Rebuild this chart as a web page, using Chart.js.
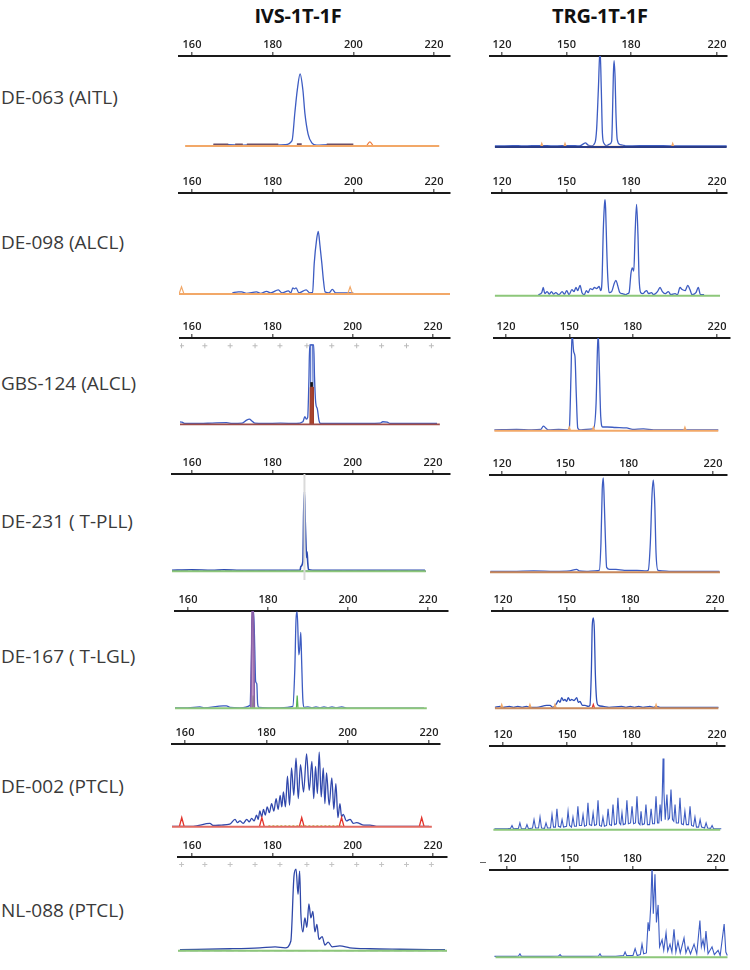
<!DOCTYPE html>
<html>
<head>
<meta charset="utf-8">
<script src="https://cdn.jsdelivr.net/npm/chart.js@4.4.1/dist/chart.umd.min.js"></script>
<style>
body { margin: 0; background: #fff; width: 750px; height: 970px; position: relative; overflow: hidden; font-family: 'Open Sans', sans-serif; }
.title { position: absolute; top: 2px; font-weight: 700; font-size: 20px; color: #111; transform: translateX(-50%); white-space: nowrap; letter-spacing: -0.2px; }
.sample { position: absolute; left: 1px; font-size: 19px; color: #3a3a3a; transform: translateY(-50%); white-space: nowrap; }
canvas { position: absolute; }
.dash { position: absolute; left: 480px; top: 862px; width: 6px; height: 1px; background: #666; }
</style>
</head>
<body>
<div class="dash"></div>
<script>
const assayTitles = ['IVS-1T-1F', 'TRG-1T-1F'];
const sampleNames = ['DE-063 (AITL)', 'DE-098 (ALCL)', 'GBS-124 (ALCL)', 'DE-231 ( T-PLL)', 'DE-167 ( T-LGL)', 'DE-002 (PTCL)', 'NL-088 (PTCL)'];
const ivsTicks = [160, 180, 200, 220];
const trgTicks = [120, 150, 180, 220];

// [size (bp), relative height %]
// DE-063
const de063IvsBlue = [[165.3,1],[169,1.5],[172,1],[176,1.5],[180,1],[183.1,1.5],[184.8,6],[185.5,37],[186.1,62],[186.8,80],[187.5,62],[188.0,36],[188.8,13],[189.7,3.5],[190.9,1],[194,1.5],[199.9,1]];
const de063IvsNoise = [[165.3,1],[169.0,1],[169.5,null],[170.7,1],[172.6,1],[173,null],[173.6,1],[181.4,1],[182,null],[186.0,1.5],[187.2,1.5],[188,null],[193.4,1],[200.0,1]];
const de063IvsBase = [[158.3,0],[221.3,0]];
const de063IvsOrange = [[203.3,0],[203.7,3],[204.1,4.5],[204.5,3],[204.9,0]];
const de063TrgBlue = [[116.7,1],[125,1.5],[130,1],[138,1.5],[144,1],[152,1.5],[156,1],[157.7,3],[158.8,4.5],[160.0,2],[161.5,1],[163.3,5],[164.0,19],[164.8,62],[165.6,108],[166.2,62],[166.7,15],[167.4,4],[168.7,1.5],[170.0,3],[171.0,6],[171.3,26],[171.8,80],[172.1,95],[172.6,76],[173.0,37],[173.6,8],[174.9,2.5],[176,2],[178,1],[190,1.5],[200,1],[224.5,1]];
const de063TrgBase = [[116.7,0],[224.5,0]];
const de063TrgOrange = [[159.4,0],[176.4,0]];
const de063TrgPeaks = [[137.9,0],[138.5,4],[139.1,0],[139.2,null],[148.7,0],[149.3,4],[149.9,0],[150,null],[198.8,0],[199.4,4],[200.0,0]];

// DE-098
const de098IvsBlue = [[170,1],[171.5,2],[172.3,2],[173.5,0.5],[176.0,2],[177,0.5],[178.5,2.5],[179.5,1],[181.4,4],[182.3,1],[183.9,3],[184.5,1],[185.0,6],[185.4,5],[185.8,6],[186.5,1],[188.3,4],[189.2,1],[189.9,1.5],[190.3,30],[190.9,54],[191.3,62],[191.7,49],[192.2,30],[192.6,13],[193.0,2],[194.0,1],[194.8,4.5],[195.6,1],[200,1]];
const de098IvsBase = [[155,0],[224,0]];
const de098IvsPeaks = [[156.8,0],[157.4,7],[158.0,0],[158.1,null],[198.6,0],[199.2,7],[199.8,0]];
const de098TrgBlue = [[136.9,1],[138.5,3],[139.2,8],[139.9,2],[141,4],[142,1.5],[143,4],[144,1.5],[145,3],[146.5,1],[148,4],[149,1.5],[150.1,5],[151.2,1],[152.5,6],[153.5,4],[154.4,8],[155.2,5],[156.3,10],[157.2,3],[158.3,1],[159.2,5],[160.1,3],[161,7],[162,6],[163,8],[164,7],[165.2,9],[165.9,5],[166.5,14],[167.1,63],[167.6,87],[167.9,93.5],[168.2,85],[168.7,47],[169.2,18],[169.8,3],[171,4],[172.2,12],[173.0,15],[173.8,10],[174.8,3],[176,2],[177.5,1],[178.4,2],[179.1,3],[180.0,22],[180.6,27],[181.3,24],[181.9,60],[182.6,89],[183.3,55],[183.7,20],[184.5,3],[185.5,2],[186.5,4],[187.3,5],[188.2,2],[189.5,3],[190.5,1],[192.3,4],[193.5,8],[194.6,4],[195.8,2],[197.4,4],[198.5,1],[200.5,2],[201.6,1],[202.8,8],[203.8,6],[205.2,5],[206.4,10],[207.4,6],[208.4,1],[210.2,3],[211.3,8],[212.3,1],[214,1]];
const de098TrgBase = [[116.7,0],[221.4,0]];

// GBS-124
const gbs124IvsBlue = [[155,1],[156.6,3],[157.5,2.5],[158.3,1],[162,1],[165,1.5],[168.6,2],[170,1],[172.5,1.5],[173.6,5],[174.3,6],[174.9,4],[175.6,1.5],[178,1],[182,1.5],[186,1],[187.6,3],[188.1,9],[188.5,6],[188.8,8],[189.1,50],[189.3,92],[190.3,92],[190.5,55],[190.8,25],[191.2,18],[191.6,5],[192.0,1],[196,1],[200,1],[206.8,1.5],[207.5,3],[208.6,2.5],[209.3,1],[215,1],[221,1]];
const gbs124IvsInner = [[189.4,3],[189.55,92],[190.05,92],[190.2,3]];
const gbs124IvsRed = [[189.35,0],[189.45,43],[190.15,43],[190.25,0]];
const gbs124IvsBlack = [[189.45,46],[190.1,46]];
const gbs124IvsMarks = [[157.4,91],[163.2,91],[169.5,91],[175.7,91],[181.9,91],[188.6,91],[194.8,91],[201.0,91],[207.2,91],[213.4,91],[219.6,91]];
const gbs124IvsBase = [[154.5,0],[221.7,0]];
const gbs124TrgBlue = [[114.5,1],[125,1.5],[132,1],[136.5,1.5],[137.7,5],[138.8,3],[140,1],[145,1.5],[149.5,1],[150.0,2],[150.8,60],[151.3,105],[152.1,85],[152.7,80],[153.3,40],[154.0,3],[155,1],[158,1.5],[161.4,2],[162.7,30],[163.3,85],[163.7,105],[164.2,70],[164.9,15],[165.8,4],[168,4],[172,3.5],[177.2,3],[180,1.5],[185.1,2],[190,1],[210,1],[220.6,1]];
const gbs124TrgBase = [[114.5,0],[220.6,0]];
const gbs124TrgPeaks = [[149.4,0],[150.0,4],[150.6,0],[150.7,null],[160.8,0],[161.4,4],[162.0,0],[162.1,null],[204.2,0],[204.8,4],[205.4,0]];

// DE-231
const de231IvsBlue = [[154.5,1],[160,1.5],[165,1],[168,1.5],[172,1],[178,1],[183,1],[186.9,1],[187.1,5],[187.6,10],[187.8,60],[188.0,82],[188.2,50],[188.4,25],[188.55,14],[188.65,20],[188.8,10],[189.0,2],[190,1],[195,1],[205,1],[213,1],[218,1]];
const de231IvsMarker = [[188.0,-9],[188.0,100]];
const de231IvsBase = [[154.5,0],[218.2,0]];
const de231TrgBlue = [[114.5,1],[125,1],[135,1.5],[145,1],[152,1.5],[155.4,3],[156.5,1.5],[160,1],[164,1.5],[166.1,2],[166.9,30],[167.5,85],[168.0,97],[168.5,70],[169.0,35],[169.6,5],[171,3],[174,3],[178,2],[184,2],[188.6,1.5],[189.3,2],[190.3,30],[191.1,80],[191.7,95],[192.4,70],[193.0,20],[193.9,2],[196,1.5],[200,1],[210,1],[223,1]];
const de231TrgBase = [[114.3,0],[223.3,0]];

// DE-167
const de167IvsBlue = [[156,0.5],[160,0.5],[163.0,1.5],[164,0.5],[168.8,2.5],[169.6,2.5],[170.5,1],[173,0.5],[175.5,3],[175.8,40],[176.1,100],[176.4,100],[176.7,60],[176.9,28],[177.2,25],[177.4,5],[177.7,1],[180,0.5],[183,0.5],[186.2,2],[186.7,40],[187.0,90],[187.3,99],[187.7,55],[187.9,60],[188.2,78],[188.4,50],[188.7,10],[189.0,1],[190,1.5],[191,0.5],[192,1.5],[193,0.5],[194,1.5],[195,0.5],[196,1.5],[197,0.5],[198.4,1.5],[200,0],[219,0]];
const de167IvsPurple = [[175.7,0],[175.9,60],[176.0,105],[176.3,105],[176.5,60],[176.6,0]];
const de167IvsGreen = [[176.1,0],[176.3,13],[176.5,0],[176.6,null],[187.1,0],[187.3,13],[187.5,0]];
const de167IvsBase = [[155.9,0],[219.7,0]];
const de167TrgBlue = [[116.2,1],[118.6,2],[120,1],[123,2],[125,1],[127,2],[129,1],[131,2],[133,1],[136,1],[140.6,3],[142.2,3],[143.5,1],[145.3,5],[146.1,8],[146.9,6],[147.7,11],[148.5,8],[149.2,9],[150.0,7],[150.8,11],[151.6,8],[152.4,9],[153.5,8],[154.8,11],[155.5,6],[156.3,7],[157.5,3],[158.7,3],[160.2,2],[161.0,3],[161.7,40],[162.1,85],[162.6,93],[163.1,80],[163.5,40],[164.2,8],[165.0,3],[167.3,2],[170,1],[176,2],[178,1],[180,2],[182,1],[184,2],[186,1],[189.3,2],[191,1],[192.5,2],[194,1],[200,1],[221.6,1]];
const de167TrgBase = [[116.2,0],[221.6,0]];
const de167TrgPeaks = [[118.8,0],[119.4,4],[120.0,0],[120.1,null],[132.1,0],[132.7,4],[133.3,0],[133.4,null],[143.9,0],[144.5,4],[145.1,0],[145.2,null],[191.6,0],[192.2,4],[192.8,0]];
const de167TrgRed = [[162.0,0],[162.6,4],[163.2,0]];

// DE-002
const de002IvsBlue = [[156.7,0.5],[162,0.5],[166.1,4],[167,1.5],[169,2],[171,3],[172.3,9],[172.9,5],[173.5,7],[174.3,4],[175.2,9],[175.8,6],[176.4,10],[177.0,7],[177.6,14],[178.0,9],[178.4,19],[178.85,12],[179.3,21],[179.75,14],[180.2,24],[180.75,17],[181.3,28],[181.85,19],[182.4,34],[182.9,21],[183.4,38],[183.8,24],[184.2,42],[184.7,24],[185.2,61],[185.7,26],[186.2,71],[186.75,38],[187.3,83],[187.85,34],[188.4,75],[189.15,42],[189.9,88],[190.55,44],[191.2,79],[191.65,34],[192.1,73],[192.55,40],[193.0,90],[193.5,36],[194.0,71],[194.4,28],[194.8,65],[195.45,26],[196.1,59],[196.6,21],[197.1,52],[197.6,11],[198.1,28],[198.5,12],[198.9,15],[199.7,7],[200.6,9],[201.4,4],[202.2,5],[204,2],[205.5,2],[207.1,0.5],[220,0.5]];
const de002IvsRed = [[158.6,0],[159.2,11],[159.8,0],[159.9,null],[178.3,0],[178.9,11],[179.5,0],[179.6,null],[188.1,0],[188.7,11],[189.3,0],[189.4,null],[197.9,0],[198.5,11],[199.1,0],[199.2,null],[217.6,0],[218.2,11],[218.8,0]];
const de002IvsBase = [[156.7,0],[220.7,0]];
const de002IvsDots = [[180.5,0.8],[198.5,0.8]];
const de002TrgBlue = [[116,1],[122,1],[123.5,1.5],[124.2,5],[124.9,1],[127.2,1.5],[127.9,8],[128.6,1],[130.5,1],[131.2,6],[131.9,1],[133.8,2],[134.5,12],[135.2,2],[136.6,2],[137.3,15],[138.0,2],[139.4,1.5],[140.1,8],[140.8,2],[142.2,2],[142.9,18],[143.6,3],[144.5,3],[145.2,25],[145.9,4],[146.9,3],[147.6,12],[148.3,3],[149.7,4],[150.4,22],[151.1,5],[152.0,3],[152.7,15],[153.4,4],[154.3,4],[155.0,28],[155.7,5],[156.7,5],[157.4,18],[158.1,4],[159.0,5],[159.7,32],[160.4,6],[161.4,5],[162.1,20],[162.8,5],[163.7,6],[164.4,35],[165.1,5],[166.0,4],[166.7,15],[167.4,4],[168.4,5],[169.1,25],[169.8,6],[170.7,5],[171.4,30],[172.1,6],[173.0,7],[173.7,38],[174.4,8],[175.0,6],[175.6,20],[176.2,6],[177.2,7],[177.9,35],[178.6,7],[179.6,8],[180.3,28],[181.0,7],[181.9,8],[182.6,40],[183.3,8],[184.0,6],[184.5,22],[185.1,6],[186.1,7],[186.8,30],[187.5,6],[188.5,6],[189.2,25],[189.9,7],[190.8,7],[191.5,40],[192.2,8],[192.8,8],[193.4,30],[194.0,10],[194.4,40],[194.8,85],[195.2,45],[195.8,12],[196.6,42],[197.2,12],[197.8,14],[198.5,48],[199.2,12],[199.8,10],[200.4,30],[201.0,8],[202.0,8],[202.7,38],[203.4,7],[204.3,6],[205.0,22],[205.7,6],[206.7,6],[207.4,28],[208.1,5],[209.0,4],[209.7,15],[210.4,3],[211.4,3],[212.1,12],[212.8,3],[214.2,2],[214.9,8],[215.6,2],[217.0,1.5],[217.7,5],[218.4,1],[222,1]];
const de002TrgBase = [[115.5,0],[221.5,0]];

// NL-088
const nl088IvsBlue = [[157.0,1],[169.5,2],[176.9,3],[180.7,4],[183.2,3],[184.6,10],[185.4,80],[185.9,87],[186.4,60],[186.8,85],[187.1,40],[187.6,20],[188.1,35],[188.6,25],[189.1,50],[189.6,35],[190.1,42],[190.6,20],[191.1,28],[191.6,12],[192.4,15],[193.1,6],[193.9,9],[194.9,4],[196.8,5],[199.3,3],[204.3,2],[211.8,1.5],[223.0,1]];
const nl088IvsMarks = [[157.4,92],[163.2,92],[169.5,92],[175.7,92],[181.9,92],[188.6,92],[194.8,92],[201.0,92],[207.2,92],[213.4,92],[219.6,92]];
const nl088IvsBase = [[156.5,0],[223.5,0]];
const nl088TrgBlue = [[114,1],[124,1],[125.5,1.5],[126.2,4],[126.9,1],[140,1],[144.7,1.5],[145.4,3],[146.1,1],[160,1],[163.8,1.5],[164.5,4],[165.2,1],[172,1],[175.8,2],[176.5,6],[177.2,2],[180.3,2],[181.3,10],[182.3,2],[183.8,3],[184.6,15],[185.4,4],[186.7,5],[187.5,40],[188.1,30],[188.8,60],[189.4,105],[190.0,50],[190.8,95],[191.5,40],[192.3,60],[193.0,12],[194.2,20],[195.0,8],[196.1,28],[196.9,7],[198.0,15],[198.9,6],[199.9,32],[200.8,6],[201.8,18],[202.9,5],[204.7,22],[205.6,5],[206.6,12],[207.8,4],[209.5,15],[210.8,4],[212.3,42],[213.0,12],[213.8,20],[214.5,10],[215.2,30],[216.2,4],[218.1,12],[219.2,3],[221.0,8],[222,2],[223.9,38],[224.7,6],[225.4,2]];
const nl088TrgBase = [[114.5,0],[225.5,0]];

const BLUE = '#3d5cc2', NAVY = '#2b3c86', ORANGE = '#f2a868', GREEN = '#8dc77a', RED = '#e3342c';

// geo: [axis left px, axis right px, first tick px, last tick px, axis y, baseline y]
const panels = [
  { col: 0, geo: [179, 450, 192, 434, 56, 146], sets: [
    { data: de063IvsBase, color: ORANGE, w: 2 },
    { data: de063IvsNoise, color: '#6e5068', w: 3, sharp: true },
    { data: de063IvsOrange, color: '#ee7a3a', w: 1.2 },
    { data: de063IvsBlue, color: BLUE, w: 1.3 } ] },
  { col: 1, geo: [490, 727, 502, 717, 56, 147], sets: [
    { data: de063TrgBase, color: NAVY, w: 2 },
    { data: de063TrgOrange, color: '#f5b98a', w: 2.5 },
    { data: de063TrgPeaks, color: ORANGE, w: 1.2, sharp: true },
    { data: de063TrgBlue, color: BLUE, w: 1.3 } ] },
  { col: 0, geo: [179, 450, 192, 434, 193, 294], sets: [
    { data: de098IvsBase, color: ORANGE, w: 2 },
    { data: de098IvsBase, color: '#d2402c', w: 1.5, dash: [2, 3] },
    { data: de098IvsPeaks, color: ORANGE, w: 1.2, sharp: true },
    { data: de098IvsBlue, color: BLUE, w: 1.3 } ] },
  { col: 1, geo: [492, 727, 502, 717, 193, 296], sets: [
    { data: de098TrgBase, color: GREEN, w: 2 },
    { data: de098TrgBlue, color: BLUE, w: 1.3 } ] },
  { col: 0, geo: [180, 450, 192, 433, 338, 429], sets: [
    { data: gbs124IvsMarks, color: '#bbbbbb', dots: true },
    { data: gbs124IvsBase, color: '#a04d48', w: 1.6 },
    { data: gbs124IvsRed, color: '#9c3c2c', w: 1, fill: '#a8452f', sharp: true },
    { data: gbs124IvsBlack, color: '#151515', w: 5, sharp: true },
    { data: gbs124IvsInner, color: BLUE, w: 1, sharp: true },
    { data: gbs124IvsBlue, color: BLUE, w: 1.3 } ] },
  { col: 1, geo: [494, 730, 506, 717, 338, 431], sets: [
    { data: gbs124TrgBase, color: ORANGE, w: 2 },
    { data: gbs124TrgPeaks, color: ORANGE, w: 1.2, sharp: true },
    { data: gbs124TrgBlue, color: BLUE, w: 1.3 } ] },
  { col: 0, geo: [172, 450, 192, 433, 474, 571], sets: [
    { data: de231IvsMarker, color: '#dadada', w: 2, sharp: true },
    { data: de231IvsBase, color: GREEN, w: 2 },
    { data: de231IvsBase, color: NAVY, w: 1.5, dash: [7, 4] },
    { data: de231IvsBlue, color: '#2d4bb0', w: 1.6 } ] },
  { col: 1, geo: [490, 727, 502, 713, 475, 572], sets: [
    { data: de231TrgBase, color: '#c8875a', w: 2 },
    { data: de231TrgBlue, color: BLUE, w: 1.3 } ] },
  { col: 0, geo: [175, 448, 188, 428, 611, 708], sets: [
    { data: de167IvsBase, color: GREEN, w: 2 },
    { data: de167IvsPurple, color: '#8a5fa8', w: 1.5, fill: 'rgba(170,110,170,0.7)' },
    { data: de167IvsGreen, color: '#58b34f', w: 1.2, sharp: true },
    { data: de167IvsBlue, color: BLUE, w: 1.3 } ] },
  { col: 1, geo: [492, 728, 503, 715, 611, 708], sets: [
    { data: de167TrgBase, color: '#c98b5e', w: 2 },
    { data: de167TrgPeaks, color: ORANGE, w: 1.2, sharp: true },
    { data: de167TrgRed, color: RED, w: 1.2, sharp: true },
    { data: de167TrgBlue, color: '#2f4fb8', w: 1.3 } ] },
  { col: 0, geo: [172, 440, 185, 429, 744, 827], sets: [
    { data: de002IvsBase, color: '#e06a62', w: 2 },
    { data: de002IvsDots, color: '#b9b442', w: 1.5, dash: [2, 2] },
    { data: de002IvsRed, color: RED, w: 1.3, sharp: true },
    { data: de002IvsBlue, color: '#3148ac', w: 1.3 } ] },
  { col: 1, geo: [490, 725, 503, 717, 746, 830], sets: [
    { data: de002TrgBase, color: GREEN, w: 2 },
    { data: de002TrgBlue, color: BLUE, w: 1.1, sharp: true } ] },
  { col: 0, geo: [178, 447, 192, 433, 857, 955], sets: [
    { data: nl088IvsMarks, color: '#c4c4c4', dots: true },
    { data: nl088IvsBase, color: GREEN, w: 2 },
    { data: nl088IvsBase, color: NAVY, w: 1, dash: [8, 4] },
    { data: nl088IvsBlue, color: '#2f47a8', w: 1.3 } ] },
  { col: 1, geo: [490, 728, 507, 716, 870, 957], sets: [
    { data: nl088TrgBase, color: GREEN, w: 2 },
    { data: nl088TrgBlue, color: BLUE, w: 1.1, sharp: true } ] }
];

const titleX = [298, 600];
const sampleY = [97, 242, 383, 521, 656, 786, 910];
const PAD = 20, AXH = 22;

assayTitles.forEach((t, i) => {
  const d = document.createElement('div');
  d.className = 'title';
  d.textContent = t;
  d.style.left = titleX[i] + 'px';
  document.body.appendChild(d);
});
sampleNames.forEach((t, i) => {
  const d = document.createElement('div');
  d.className = 'sample';
  d.textContent = t;
  d.style.top = sampleY[i] + 'px';
  document.body.appendChild(d);
});

function makePanel(p) {
  const [x0, x1, pa, pb, axisY, baseY] = p.geo;
  const ticks = p.col === 0 ? ivsTicks : trgTicks;
  const va = ticks[0], vb = ticks[ticks.length - 1];
  const ppb = (pb - pa) / (vb - va);
  const plotH = (baseY - axisY) * 1.1;

  const cv = document.createElement('canvas');
  cv.width = x1 - x0 + 2 * PAD;
  cv.height = Math.round(AXH + plotH);
  cv.style.left = (x0 - PAD) + 'px';
  cv.style.top = (axisY - AXH) + 'px';
  document.body.appendChild(cv);

  new Chart(cv, {
    type: 'line',
    data: {
      datasets: p.sets.map(s => ({
        data: s.data,
        borderColor: s.color,
        backgroundColor: s.fill || s.color,
        borderWidth: s.w || 1.3,
        borderDash: s.dash || [],
        fill: s.fill ? 'origin' : false,
        tension: 0,
        cubicInterpolationMode: s.sharp || s.dots ? 'default' : 'monotone',
        showLine: !s.dots,
        pointRadius: s.dots ? 2.5 : 0,
        pointStyle: 'cross',
        pointBorderWidth: 1,
        spanGaps: false
      }))
    },
    options: {
      responsive: false,
      animation: false,
      events: [],
      layout: { padding: { left: PAD, right: PAD, top: 0, bottom: 0 } },
      plugins: { legend: { display: false }, tooltip: { enabled: false } },
      scales: {
        x: {
          type: 'linear',
          position: 'top',
          min: va - (pa - x0) / ppb,
          max: vb + (x1 - pb) / ppb,
          afterBuildTicks: s => { s.ticks = ticks.map(v => ({ value: v })); },
          afterFit: s => { s.height = AXH; },
          ticks: { autoSkip: false, maxRotation: 0, padding: 1, color: '#222',
                   font: { family: 'Open Sans', size: 11, weight: '600' } },
          grid: { drawOnChartArea: false, drawTicks: true, tickLength: 4, color: '#666', lineWidth: 1.5 },
          border: { display: true, color: '#1a1a1a', width: 2 }
        },
        y: { display: false, min: -10, max: 100 }
      }
    }
  });
}

panels.forEach(makePanel);
</script>
</body>
</html>
